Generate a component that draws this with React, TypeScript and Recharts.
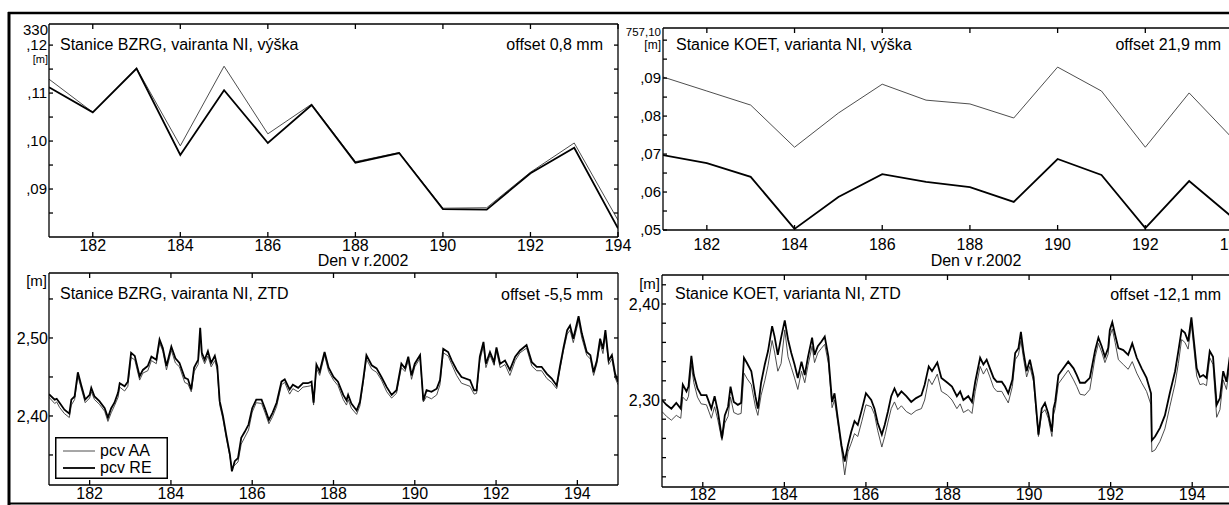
import React from "react";
import { LineChart, Line, XAxis, YAxis, Legend } from "recharts";

const FONT = '"Liberation Sans", Arial, Helvetica, sans-serif';

// denní řešení výšky, den v roce 2002
const heightDays = [181, 182, 183, 184, 185, 186, 187, 188, 189, 190, 191, 192, 193, 194];
const bzrgHeightAA = [0.1129, 0.106, 0.1152, 0.099, 0.1156, 0.1015, 0.1077, 0.0957, 0.0976, 0.086, 0.0861, 0.0935, 0.0996, 0.0835];
const bzrgHeightRE = [0.1112, 0.106, 0.1151, 0.0971, 0.1106, 0.0996, 0.1075, 0.0955, 0.0975, 0.0858, 0.0857, 0.0933, 0.0986, 0.0818];
const koetHeightAA = [0.0903, 0.0866, 0.0829, 0.0718, 0.0808, 0.0884, 0.0842, 0.0832, 0.0795, 0.0929, 0.0866, 0.0718, 0.0861, 0.074];
const koetHeightRE = [0.0697, 0.0676, 0.064, 0.0503, 0.0587, 0.0647, 0.0627, 0.0613, 0.0574, 0.0687, 0.0645, 0.0505, 0.0629, 0.0532];

// ZTD BZRG
const bzrgZtdDays = [
  181.0, 181.14, 181.19, 181.26, 181.38, 181.5, 181.55, 181.63, 181.71, 181.79, 181.89,
  182.0, 182.04, 182.12, 182.24, 182.37, 182.45, 182.53, 182.61, 182.7, 182.74, 182.86, 182.94,
  183.02, 183.11, 183.23, 183.31, 183.43, 183.52, 183.64, 183.72, 183.8, 183.89,
  184.01, 184.11, 184.21, 184.34, 184.42, 184.5, 184.57, 184.67, 184.72, 184.76, 184.83, 184.91, 184.99,
  185.08, 185.14, 185.2, 185.28, 185.36, 185.45, 185.5, 185.57, 185.65, 185.73, 185.82, 185.91,
  186.0, 186.1, 186.23, 186.31, 186.41, 186.5, 186.6, 186.72, 186.8, 186.92,
  187.0, 187.13, 187.25, 187.37, 187.46, 187.51, 187.58, 187.66, 187.78, 187.88,
  188.0, 188.11, 188.24, 188.32, 188.36, 188.44, 188.57, 188.65, 188.73, 188.81, 188.94,
  189.06, 189.18, 189.31, 189.43, 189.55, 189.67, 189.76, 189.84, 189.92,
  190.0, 190.13, 190.21, 190.29, 190.41, 190.54, 190.62, 190.7, 190.82, 190.91,
  191.03, 191.15, 191.36, 191.46, 191.52, 191.6, 191.69, 191.75, 191.85, 191.95,
  192.01, 192.1, 192.22, 192.34, 192.47, 192.59, 192.75, 192.88,
  193.0, 193.12, 193.25, 193.37, 193.49, 193.57, 193.66, 193.75, 193.82, 193.9,
  194.03, 194.11, 194.23, 194.32, 194.4, 194.48, 194.56, 194.63, 194.69, 194.77, 194.85, 194.93, 195.0,
];
const bzrgZtdRE = [
  2.428, 2.421, 2.422, 2.417, 2.408, 2.403, 2.421, 2.425, 2.456, 2.44, 2.421,
  2.427, 2.436, 2.425, 2.419, 2.41, 2.398, 2.41, 2.417, 2.43, 2.442, 2.438, 2.444,
  2.481, 2.477, 2.451, 2.459, 2.464, 2.476, 2.472, 2.498, 2.487, 2.464,
  2.489, 2.474, 2.468, 2.449, 2.447, 2.434, 2.462, 2.472, 2.513, 2.481, 2.472, 2.483, 2.468,
  2.477, 2.464, 2.419, 2.4, 2.376, 2.351, 2.329, 2.342, 2.346, 2.372, 2.38, 2.389,
  2.41, 2.421, 2.421, 2.41, 2.395, 2.404, 2.417, 2.444, 2.447, 2.434,
  2.44, 2.436, 2.442, 2.442, 2.444, 2.417, 2.466, 2.457, 2.482, 2.462,
  2.45, 2.444, 2.427, 2.42, 2.427, 2.416, 2.407, 2.418, 2.446, 2.478, 2.465,
  2.461, 2.45, 2.437, 2.427, 2.433, 2.467, 2.461, 2.476, 2.452,
  2.467, 2.478, 2.42, 2.433, 2.431, 2.435, 2.446, 2.486, 2.482, 2.471,
  2.459, 2.45, 2.446, 2.433, 2.433, 2.476, 2.495, 2.467, 2.482, 2.469,
  2.488, 2.467, 2.471, 2.459, 2.476, 2.484, 2.491, 2.469,
  2.463, 2.463, 2.454, 2.448, 2.439, 2.463, 2.488, 2.51, 2.516, 2.499,
  2.528, 2.506, 2.482, 2.478, 2.456, 2.471, 2.499, 2.486, 2.51, 2.471, 2.478, 2.454, 2.444,
];
const bzrgZtdAA = [
  2.424, 2.416, 2.418, 2.411, 2.403, 2.398, 2.414, 2.421, 2.451, 2.436, 2.417,
  2.423, 2.431, 2.421, 2.415, 2.406, 2.393, 2.404, 2.413, 2.424, 2.437, 2.432, 2.438,
  2.475, 2.472, 2.446, 2.455, 2.458, 2.471, 2.467, 2.494, 2.483, 2.459,
  2.484, 2.468, 2.463, 2.443, 2.441, 2.431, 2.457, 2.466, 2.505, 2.476, 2.467, 2.477, 2.463,
  2.471, 2.459, 2.414, 2.396, 2.372, 2.348, 2.333, 2.337, 2.341, 2.364, 2.373, 2.382,
  2.405, 2.417, 2.416, 2.405, 2.39, 2.399, 2.412, 2.44, 2.443, 2.428,
  2.435, 2.431, 2.437, 2.438, 2.439, 2.414, 2.461, 2.452, 2.478, 2.457,
  2.446, 2.439, 2.421, 2.414, 2.421, 2.41, 2.402, 2.413, 2.442, 2.473, 2.46,
  2.456, 2.446, 2.431, 2.423, 2.429, 2.462, 2.457, 2.471, 2.447,
  2.463, 2.474, 2.418, 2.425, 2.422, 2.427, 2.44, 2.481, 2.477, 2.466,
  2.452, 2.442, 2.438, 2.428, 2.429, 2.471, 2.49, 2.462, 2.478, 2.465,
  2.483, 2.462, 2.466, 2.452, 2.471, 2.481, 2.487, 2.464,
  2.458, 2.458, 2.448, 2.443, 2.435, 2.459, 2.484, 2.505, 2.51, 2.494,
  2.522, 2.5, 2.478, 2.473, 2.452, 2.467, 2.493, 2.48, 2.505, 2.466, 2.473, 2.449, 2.44,
];

// ZTD KOET
const koetZtdDays = [
  181.0, 181.11, 181.23, 181.35, 181.46, 181.51, 181.6, 181.65, 181.72, 181.78, 181.87, 181.96,
  182.09, 182.21, 182.29, 182.37, 182.47, 182.54, 182.62, 182.68, 182.76, 182.86, 182.94,
  183.01, 183.09, 183.19, 183.29, 183.35, 183.43, 183.52, 183.6, 183.7, 183.76, 183.84, 183.92,
  184.01, 184.09, 184.17, 184.25, 184.33, 184.42, 184.5, 184.58, 184.68, 184.74, 184.82, 184.91, 184.99,
  185.08, 185.17, 185.23, 185.31, 185.4, 185.48, 185.56, 185.64, 185.72, 185.8, 185.9,
  186.0, 186.13, 186.21, 186.29, 186.39, 186.46, 186.54, 186.62, 186.7, 186.78, 186.87, 186.99,
  187.11, 187.23, 187.36, 187.44, 187.54, 187.62, 187.75, 187.85,
  188.0, 188.11, 188.23, 188.31, 188.39, 188.51, 188.6, 188.68, 188.8, 188.88, 188.96,
  189.04, 189.13, 189.21, 189.33, 189.41, 189.49, 189.59, 189.66, 189.74, 189.8, 189.86, 189.94,
  190.02, 190.11, 190.19, 190.23, 190.31, 190.39, 190.47, 190.56, 190.6, 190.64, 190.72, 190.84, 190.96,
  191.09, 191.17, 191.25, 191.37, 191.49, 191.62, 191.7, 191.78, 191.86, 191.94, 191.98,
  192.04, 192.11, 192.19, 192.31, 192.43, 192.53, 192.64, 192.76, 192.88, 192.99,
  193.01, 193.09, 193.21, 193.33, 193.45, 193.58, 193.66, 193.74, 193.82, 193.9, 193.98,
  194.05, 194.11, 194.19, 194.27, 194.35, 194.43, 194.51, 194.6, 194.68, 194.76, 194.84, 194.92, 195.0,
];
const koetZtdRE = [
  2.3, 2.295, 2.291, 2.297, 2.291, 2.316, 2.309, 2.314, 2.346, 2.326, 2.312, 2.305,
  2.305, 2.291, 2.304, 2.288, 2.26, 2.284, 2.293, 2.314, 2.298, 2.295, 2.297,
  2.344, 2.338, 2.33, 2.304, 2.291, 2.318, 2.337, 2.351, 2.377, 2.366, 2.347, 2.365,
  2.383, 2.363, 2.349, 2.337, 2.323, 2.34, 2.326, 2.345, 2.365, 2.347, 2.356, 2.361, 2.366,
  2.345, 2.298, 2.307, 2.281, 2.253, 2.236, 2.253, 2.267, 2.278, 2.274, 2.29,
  2.307, 2.3, 2.291, 2.276, 2.264, 2.274, 2.288, 2.304, 2.312, 2.304, 2.309, 2.304,
  2.298, 2.302, 2.305, 2.316, 2.335, 2.33, 2.339, 2.323,
  2.318, 2.314, 2.304, 2.309, 2.3, 2.304, 2.298, 2.319, 2.344, 2.337, 2.342,
  2.333, 2.323, 2.319, 2.319, 2.314, 2.307, 2.321, 2.349, 2.354, 2.371, 2.351, 2.33,
  2.342, 2.324, 2.284, 2.264, 2.291, 2.297, 2.286, 2.267, 2.291, 2.298, 2.326, 2.333, 2.34,
  2.333, 2.326, 2.318, 2.318, 2.323, 2.352, 2.365, 2.356, 2.345, 2.354, 2.373,
  2.381, 2.368, 2.354, 2.352, 2.347, 2.359, 2.344, 2.333, 2.323, 2.307,
  2.258, 2.262, 2.271, 2.284, 2.307, 2.33, 2.351, 2.373, 2.37, 2.361, 2.386,
  2.358, 2.333, 2.324, 2.326, 2.323, 2.351, 2.345, 2.295, 2.302, 2.33, 2.319, 2.345, 2.335,
];
const koetZtdAA = [
  2.288, 2.283, 2.279, 2.284, 2.281, 2.303, 2.299, 2.304, 2.336, 2.318, 2.303, 2.296,
  2.295, 2.281, 2.293, 2.279, 2.258, 2.276, 2.283, 2.303, 2.287, 2.285, 2.286,
  2.328, 2.322, 2.316, 2.293, 2.284, 2.305, 2.32, 2.336, 2.362, 2.35, 2.33, 2.338,
  2.373, 2.345, 2.334, 2.323, 2.311, 2.33, 2.318, 2.336, 2.356, 2.339, 2.349, 2.354, 2.358,
  2.338, 2.292, 2.3, 2.276, 2.249, 2.222, 2.246, 2.255, 2.265, 2.262, 2.278,
  2.295, 2.293, 2.285, 2.268, 2.251, 2.262, 2.277, 2.291, 2.298, 2.29, 2.294, 2.288,
  2.285, 2.289, 2.291, 2.3, 2.322, 2.316, 2.327, 2.309,
  2.305, 2.3, 2.291, 2.296, 2.287, 2.29, 2.286, 2.309, 2.335, 2.327, 2.333,
  2.324, 2.313, 2.309, 2.309, 2.303, 2.297, 2.314, 2.342, 2.347, 2.362, 2.344, 2.324,
  2.335, 2.319, 2.28, 2.262, 2.286, 2.29, 2.281, 2.262, 2.285, 2.291, 2.317, 2.324, 2.331,
  2.321, 2.314, 2.306, 2.305, 2.311, 2.345, 2.359, 2.35, 2.339, 2.348, 2.366,
  2.374, 2.36, 2.342, 2.337, 2.332, 2.34, 2.328, 2.318, 2.309, 2.295,
  2.246, 2.248, 2.257, 2.27, 2.293, 2.317, 2.338, 2.363, 2.36, 2.353, 2.379,
  2.35, 2.325, 2.316, 2.317, 2.315, 2.344, 2.337, 2.282, 2.29, 2.321, 2.311, 2.337, 2.327,
];

// osy
const dayTicks = [182, 184, 186, 188, 190, 192, 194];
const bzrgHeightTicks = [0.085, 0.09, 0.095, 0.1, 0.105, 0.11, 0.115, 0.12];
const bzrgHeightLabels = ["", ",09", "", ",10", "", ",11", "", ",12"];
const koetHeightTicks = [0.05, 0.055, 0.06, 0.065, 0.07, 0.075, 0.08, 0.085, 0.09, 0.095, 0.1];
const koetHeightLabels = [",05", "", ",06", "", ",07", "", ",08", "", ",09", "", ""];
const bzrgZtdTicks = [2.35, 2.4, 2.45, 2.5, 2.55];
const bzrgZtdLabels = ["", "2,40", "", "2,50", ""];
const koetZtdTicks = [2.22, 2.24, 2.26, 2.28, 2.3, 2.32, 2.34, 2.36, 2.38, 2.4, 2.42];
const koetZtdLabels = ["", "", "", "", "2,30", "", "", "", "", "2,40", ""];

const toRows = (d: number[], aa: number[], re: number[]) =>
  d.map((day, i) => ({ day, aa: aa[i], re: re[i] }));

const axisStyle = { stroke: "#000", strokeWidth: 1.3 };

function ZtdLegend(props: any) {
  const items = props.payload ?? [];
  return (
    <svg width={113} height={42} style={{ display: "block" }}>
      <rect x={0.75} y={0.75} width={111.5} height={40.5} fill="#fff" stroke="#000" strokeWidth={1.5} />
      {items.map((it: any, i: number) => (
        <g key={i}>
          <line x1={8} x2={40} y1={14 + i * 17} y2={14 + i * 17} stroke={it.color} strokeWidth={i === 0 ? 0.9 : 1.8} />
          <text x={45} y={19 + i * 17} fontSize={16} fontFamily={FONT} fill="#000">
            {it.value}
          </text>
        </g>
      ))}
    </svg>
  );
}

type PanelProps = {
  rows: any[];
  xDomain: [number, number];
  yDomain: [number, number];
  yTicks: number[];
  yLabels: string[];
  width: number;
  height: number;
  margin: { top: number; right: number; bottom: number; left: number };
  yAxisWidth: number;
  xAxisHeight: number;
  xTickMargin: number;
  yTickMargin: number;
  yFontSize: number;
  legend?: boolean;
};

function Panel(p: PanelProps) {
  const fmtY = (v: number) => p.yLabels[p.yTicks.indexOf(v)] ?? "";
  const blank = () => "";
  return (
    <LineChart width={p.width} height={p.height} data={p.rows} margin={p.margin}>
      <XAxis
        xAxisId="b"
        dataKey="day"
        type="number"
        domain={p.xDomain}
        allowDataOverflow
        ticks={dayTicks}
        interval={0}
        tickSize={-5}
        tickMargin={p.xTickMargin}
        axisLine={axisStyle}
        tickLine={axisStyle}
        tick={{ fill: "#000", fontSize: 16, fontFamily: FONT }}
        height={p.xAxisHeight}
      />
      <XAxis
        xAxisId="t"
        orientation="top"
        dataKey="day"
        type="number"
        domain={p.xDomain}
        allowDataOverflow
        ticks={dayTicks}
        interval={0}
        tickSize={-5}
        tickFormatter={blank}
        axisLine={axisStyle}
        tickLine={axisStyle}
        height={2}
      />
      <YAxis
        yAxisId="l"
        type="number"
        domain={p.yDomain}
        allowDataOverflow
        ticks={p.yTicks}
        interval={0}
        tickSize={-4}
        tickMargin={p.yTickMargin}
        tickFormatter={fmtY}
        axisLine={axisStyle}
        tickLine={axisStyle}
        tick={{ fill: "#000", fontSize: p.yFontSize, fontFamily: FONT }}
        width={p.yAxisWidth}
      />
      <YAxis
        yAxisId="r"
        orientation="right"
        type="number"
        domain={p.yDomain}
        allowDataOverflow
        ticks={p.yTicks}
        interval={0}
        tickSize={-4}
        tickFormatter={blank}
        axisLine={axisStyle}
        tickLine={axisStyle}
        width={2}
      />
      <Line xAxisId="b" yAxisId="l" type="linear" dataKey="aa" name="pcv AA" stroke="#3a3a3a" strokeWidth={0.9} dot={false} isAnimationActive={false} />
      <Line xAxisId="b" yAxisId="l" type="linear" dataKey="re" name="pcv RE" stroke="#000" strokeWidth={1.8} dot={false} isAnimationActive={false} />
      {p.legend && (
        <Legend
          layout="vertical"
          align="center"
          verticalAlign="middle"
          wrapperStyle={{ left: 55, top: 175, width: 113, height: 42 }}
          content={ZtdLegend}
        />
      )}
    </LineChart>
  );
}

const txt = { fontFamily: FONT, fill: "#000" };

export default function App() {
  return (
    <div style={{ position: "absolute", left: 0, top: 0, width: 1229, height: 505, overflow: "hidden", background: "#fff" }}>
      <div style={{ position: "absolute", left: 0, top: 0 }}>
        <Panel
          rows={toRows(heightDays, bzrgHeightAA, bzrgHeightRE)}
          xDomain={[181, 194]}
          yDomain={[0.08, 0.1244]}
          yTicks={bzrgHeightTicks}
          yLabels={bzrgHeightLabels}
          width={640}
          height={268}
          margin={{ top: 22, right: 20, bottom: 3, left: 5 }}
          yAxisWidth={44}
          xAxisHeight={28}
          xTickMargin={8}
          yTickMargin={6}
          yFontSize={15}
        />
      </div>
      <div style={{ position: "absolute", left: 620, top: 0 }}>
        <Panel
          rows={toRows(heightDays, koetHeightAA, koetHeightRE)}
          xDomain={[181, 194]}
          yDomain={[0.05, 0.1032]}
          yTicks={koetHeightTicks}
          yLabels={koetHeightLabels}
          width={625}
          height={268}
          margin={{ top: 26, right: 10, bottom: 10, left: 3 }}
          yAxisWidth={40}
          xAxisHeight={28}
          xTickMargin={14}
          yTickMargin={6}
          yFontSize={15}
        />
      </div>
      <div style={{ position: "absolute", left: 0, top: 262 }}>
        <Panel
          rows={toRows(bzrgZtdDays, bzrgZtdAA, bzrgZtdRE)}
          xDomain={[181, 195]}
          yDomain={[2.3115, 2.5833]}
          yTicks={bzrgZtdTicks}
          yLabels={bzrgZtdLabels}
          width={640}
          height={243}
          margin={{ top: 9, right: 20, bottom: 2, left: 5 }}
          yAxisWidth={44}
          xAxisHeight={18}
          xTickMargin={8}
          yTickMargin={5}
          yFontSize={16}
          legend
        />
      </div>
      <div style={{ position: "absolute", left: 620, top: 262 }}>
        <Panel
          rows={toRows(koetZtdDays, koetZtdAA, koetZtdRE)}
          xDomain={[181, 195]}
          yDomain={[2.2094, 2.4302]}
          yTicks={koetZtdTicks}
          yLabels={koetZtdLabels}
          width={625}
          height={243}
          margin={{ top: 11, right: 10, bottom: 2, left: 2 }}
          yAxisWidth={40}
          xAxisHeight={16}
          xTickMargin={7}
          yTickMargin={6}
          yFontSize={16}
        />
      </div>
      <svg width={1229} height={505} style={{ position: "absolute", left: 0, top: 0, pointerEvents: "none" }}>
        <line x1={8} x2={1229} y1={13} y2={13} stroke="#000" strokeWidth={2.5} />
        <line x1={9} x2={9} y1={12} y2={505} stroke="#000" strokeWidth={3} />
        <line x1={8} x2={1229} y1={503.5} y2={503.5} stroke="#000" strokeWidth={2} />

        <text {...txt} x={60} y={50} fontSize={16}>Stanice BZRG, vairanta NI, výška</text>
        <text {...txt} x={603} y={50} fontSize={16} textAnchor="end">offset 0,8 mm</text>
        <text {...txt} x={48} y={35} fontSize={15} textAnchor="end">330</text>
        <text {...txt} x={48} y={63} fontSize={11} textAnchor="end">[m]</text>
        <text {...txt} x={363} y={266} fontSize={16} textAnchor="middle">Den v r.2002</text>

        <text {...txt} x={676} y={50} fontSize={16}>Stanice KOET, varianta NI, výška</text>
        <text {...txt} x={1221} y={50} fontSize={16} textAnchor="end">offset 21,9 mm</text>
        <text {...txt} x={661} y={36} fontSize={11.5} textAnchor="end">757,10</text>
        <text {...txt} x={661} y={49} fontSize={12} textAnchor="end">[m]</text>
        <text {...txt} x={976} y={266} fontSize={16} textAnchor="middle">Den v r.2002</text>

        <text {...txt} x={60} y={299} fontSize={16}>Stanice BZRG, vairanta NI, ZTD</text>
        <text {...txt} x={603} y={300} fontSize={16} textAnchor="end">offset -5,5 mm</text>
        <text {...txt} x={47} y={286} fontSize={15} textAnchor="end">[m]</text>

        <text {...txt} x={675} y={299} fontSize={16}>Stanice KOET, varianta NI, ZTD</text>
        <text {...txt} x={1221} y={300} fontSize={16} textAnchor="end">offset -12,1 mm</text>
        <text {...txt} x={660} y={289} fontSize={15} textAnchor="end">[m]</text>
      </svg>
    </div>
  );
}
